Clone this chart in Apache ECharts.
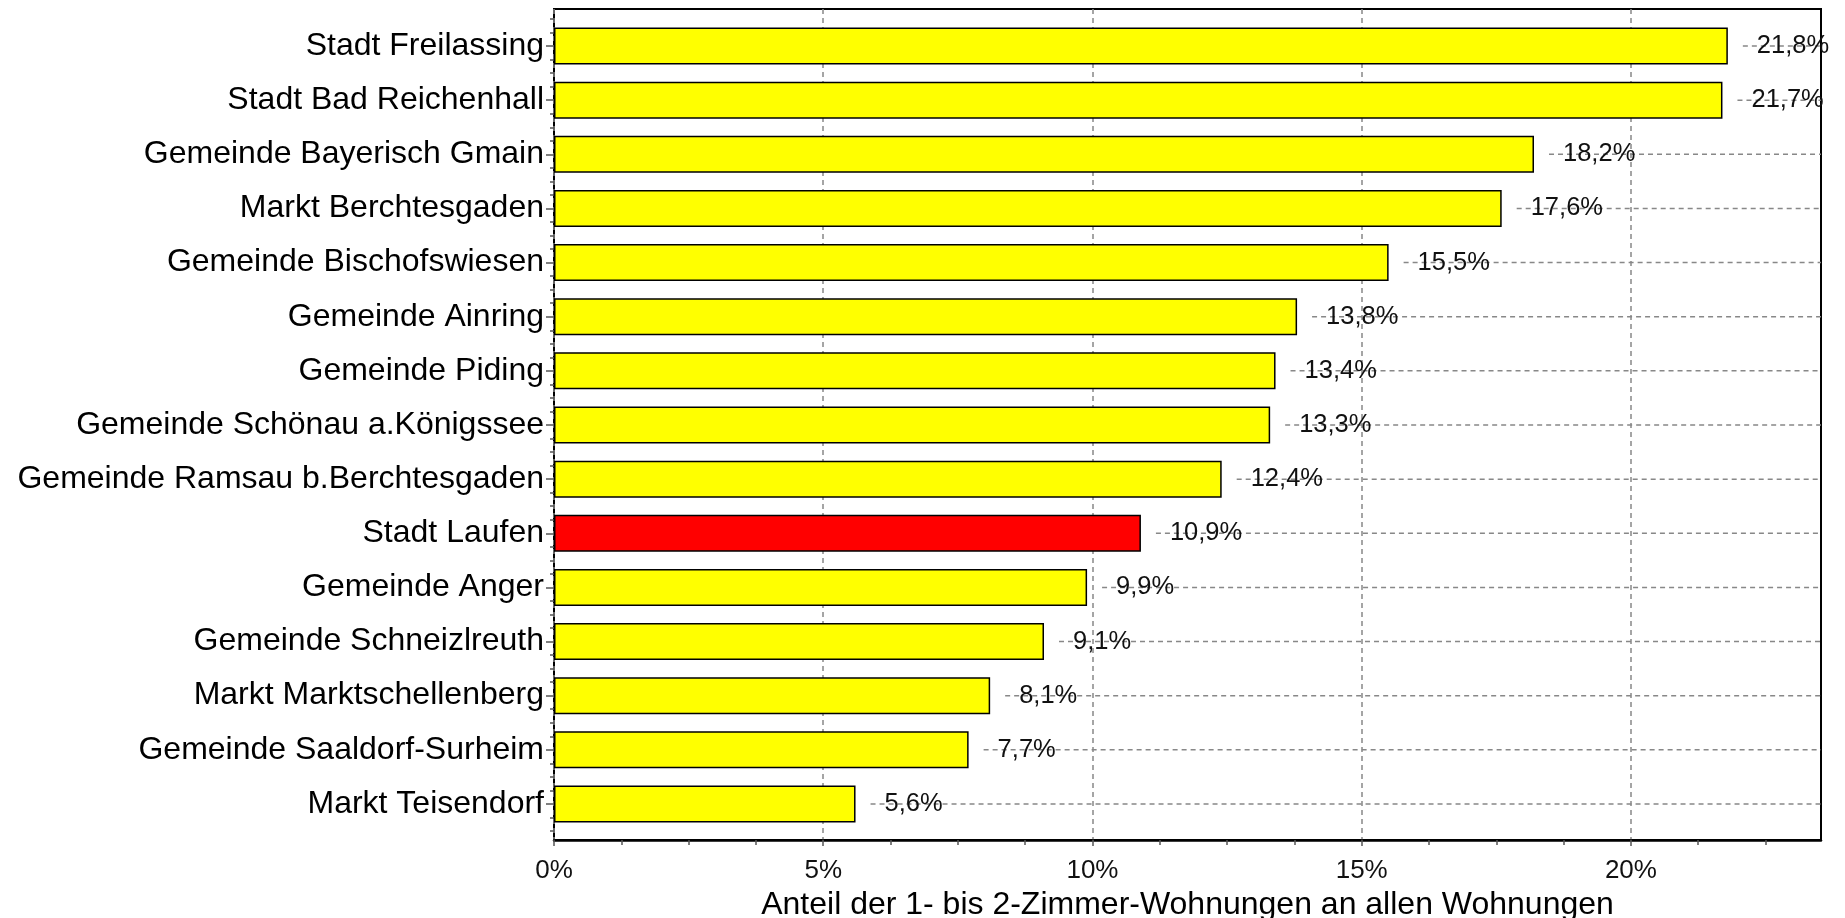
<!DOCTYPE html>
<html>
<head>
<meta charset="utf-8">
<title>Anteil der 1- bis 2-Zimmer-Wohnungen</title>
<script src="https://cdn.jsdelivr.net/npm/echarts@6/dist/echarts.min.js"></script>
<style>
  html, body { margin: 0; padding: 0; background: #fff; }
  #chart { width: 1845px; height: 918px; }
</style>
</head>
<body>
<div id="chart"></div>
<script>
// Gemeinden im Landkreis, sortiert nach Anteil
const categories = [
  'Stadt Freilassing',
  'Stadt Bad Reichenhall',
  'Gemeinde Bayerisch Gmain',
  'Markt Berchtesgaden',
  'Gemeinde Bischofswiesen',
  'Gemeinde Ainring',
  'Gemeinde Piding',
  'Gemeinde Schönau a.Königssee',
  'Gemeinde Ramsau b.Berchtesgaden',
  'Stadt Laufen',
  'Gemeinde Anger',
  'Gemeinde Schneizlreuth',
  'Markt Marktschellenberg',
  'Gemeinde Saaldorf-Surheim',
  'Markt Teisendorf'
];
// Anteil der 1- bis 2-Zimmer-Wohnungen in %
const values = [21.8, 21.7, 18.2, 17.6, 15.5, 13.8, 13.4, 13.3, 12.4, 10.9, 9.9, 9.1, 8.1, 7.7, 5.6];
const highlight = 'Stadt Laufen';

const xTicks = [0, 5, 10, 15, 20];
const xMin = 0;
const xMax = 23.53;
const axisTitle = 'Anteil der 1- bis 2-Zimmer-Wohnungen an allen Wohnungen';

const FONT = '"Liberation Sans", Arial, sans-serif';
const fmt = v => v.toFixed(1).replace('.', ',') + '%';

// minor tick positions between the major x ticks
const xMinor = [];
for (let v = 1.25; v < xMax; v += 1.25) {
  if (Math.abs(v / 5 - Math.round(v / 5)) > 1e-6) xMinor.push(+v.toFixed(2));
}

const gridFrame = { left: 554, right: 24, top: 9, bottom: 78, outerBoundsMode: 'none', containLabel: false };
const gridBars = { left: 554, right: 24, top: 19, bottom: 87, outerBoundsMode: 'none', containLabel: false };

const chart = echarts.init(document.getElementById('chart'), null, { renderer: 'canvas' });

chart.setOption({
  animation: false,
  backgroundColor: '#ffffff',
  textStyle: { fontFamily: FONT },
  grid: [
    Object.assign({ show: true, borderColor: '#000', borderWidth: 2, backgroundColor: 'transparent' }, gridFrame),
    gridBars
  ],
  xAxis: [
    {
      gridIndex: 0, type: 'value', position: 'bottom',
      min: xMin, max: xMax, interval: 5,
      axisLine: { show: true, lineStyle: { color: '#000', width: 2.5 } },
      axisTick: { show: true, length: 6, customValues: xTicks, lineStyle: { color: '#555', width: 1.5 } },
      axisLabel: {
        customValues: xTicks, formatter: '{value}%',
        fontSize: 26, color: '#111', margin: 18, fontFamily: FONT
      },
      splitLine: { show: true, lineStyle: { color: '#888', width: 1.5, type: [5, 4] } },
      name: axisTitle, nameLocation: 'middle', nameGap: 45,
      nameTextStyle: { fontSize: 32, color: '#000', fontFamily: FONT }
    },
    {
      gridIndex: 0, type: 'value', position: 'bottom',
      min: xMin, max: xMax,
      axisLine: { show: false },
      axisTick: { show: true, length: 5, customValues: xMinor, lineStyle: { color: '#555', width: 1.5 } },
      axisLabel: { show: false },
      splitLine: { show: false }
    },
    {
      gridIndex: 1, type: 'value', min: xMin, max: xMax, show: false
    }
  ],
  yAxis: [
    { gridIndex: 0, type: 'value', min: 0, max: 1, show: false },
    {
      gridIndex: 1, type: 'category', data: categories, inverse: true, position: 'left',
      axisLine: { show: false },
      axisTick: { show: true, alignWithLabel: true, length: 8, lineStyle: { color: '#555', width: 1.5 } },
      axisLabel: { fontSize: 32, color: '#000', margin: 10, fontFamily: FONT },
      splitLine: { show: false }
    },
    {
      gridIndex: 1, type: 'value', min: -0.5, max: 14.5, interval: 0.25, inverse: true,
      position: 'left', offset: 0,
      axisLine: { show: false },
      axisTick: { show: true, length: 4, lineStyle: { color: '#555', width: 1.5 } },
      axisLabel: { show: false },
      splitLine: { show: false }
    }
  ],
  series: [
    {
      // dashed guide lines from each bar end to the right frame
      type: 'custom',
      xAxisIndex: 2, yAxisIndex: 1,
      silent: true,
      z: 1,
      encode: { x: 0, y: 1 },
      data: values.map((v, i) => [v, categories[i]]),
      renderItem: function (params, api) {
        const p = api.coord([api.value(0), api.value(1)]);
        const right = params.coordSys.x + params.coordSys.width;
        return {
          type: 'line',
          shape: { x1: p[0] + 15, y1: p[1], x2: right, y2: p[1] },
          style: { stroke: '#888', lineWidth: 1.5, lineDash: [5, 4] }
        };
      }
    },
    {
      type: 'bar',
      xAxisIndex: 2, yAxisIndex: 1,
      barWidth: 37,
      z: 2,
      data: values.map((v, i) => ({
        value: v,
        itemStyle: { color: categories[i] === highlight ? '#ff0000' : '#ffff00' }
      })),
      itemStyle: { borderColor: '#000', borderWidth: 1.5 },
      label: {
        show: true, position: 'right', distance: 29,
        formatter: p => fmt(p.value),
        fontSize: 25.5, color: '#111', fontFamily: FONT
      }
    }
  ]
});
</script>
</body>
</html>
